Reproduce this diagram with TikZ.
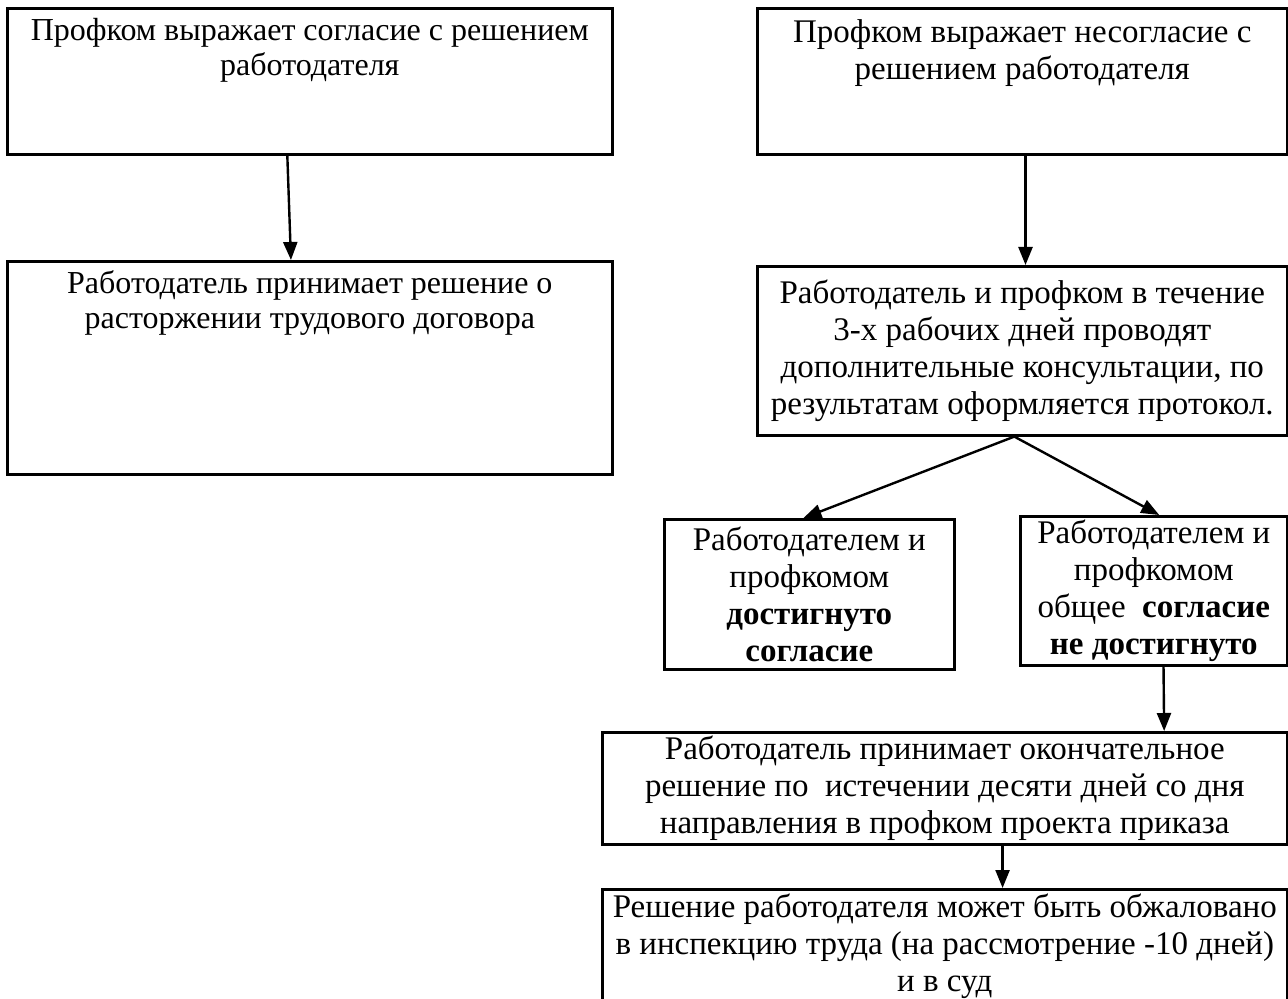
\documentclass[tikz,border=0pt]{standalone}
\usepackage{fontspec}
\setmainfont{Liberation Serif}
\usetikzlibrary{arrows.meta,calc}

\tikzset{
  blk/.style={draw, line width=1.3pt, inner sep=0pt, anchor=north west, align=center,
    font=\fontsize{16.5}{18.5}\selectfont},
  blkl/.style={blk, font=\fontsize{16}{17.5}\selectfont},
  arr/.style={line width=1.2pt, -{Triangle[width=7pt,length=9pt]}},
}
% text hung from the top edge of a box
\newcommand{\toptext}[3]{\parbox[c][#2][t]{#1}{\centering\vspace*{4pt}\strut #3\par}}

\begin{document}
\begin{tikzpicture}[x=0.5pt,y=0.5pt,yscale=-1,xscale=1]
\useasboundingbox (0,0) rectangle (1288,999);

%Box: soglasie
\node (sogl) [blkl] at (6,7) {\toptext{302.5pt}{73pt}{Профком выражает согласие с решением\\ работодателя}};
%Box: nesoglasie
\node (nesogl) [blk] at (756,7) {\toptext{265pt}{73pt}{Профком выражает несогласие с\\ решением работодателя}};
%Box: rastorzhenie
\node (rastorg) [blkl] at (6,260) {\toptext{302.5pt}{106.5pt}{Работодатель принимает решение о\\ расторжении трудового договора}};
%Box: konsultacii
\node (konsult) [blk, minimum width=265pt, minimum height=84.5pt] at (756,265)
  {Работодатель и профком в течение\\ 3-х рабочих дней проводят\\ дополнительные консультации, по\\ результатам оформляется протокол.};
%Box: dostignuto
\node (dost) [blk, minimum width=145pt, minimum height=75pt] at (663,518)
  {Работодателем и\\ профкомом\\ \textbf{достигнуто}\\ \textbf{согласие}};
%Box: ne dostignuto
\node (nedost) [blk, minimum width=133.5pt, minimum height=74.5pt] at (1019,515)
  {Работодателем и\\ профкомом\\ общее \ \textbf{согласие}\\ \textbf{не достигнуто}};
%Box: okonchatelnoe
\node (okonch) [blk, minimum width=342.5pt, minimum height=56pt] at (601,731)
  {Работодатель принимает окончательное\\ решение по \ истечении десяти дней со дня\\ направления в профком проекта приказа};
%Box: obzhalovanie
\node (obzh) [blk, minimum width=342.5pt, minimum height=57pt] at (601,888)
  {Решение работодателя может быть обжаловано\\ в инспекцию труда (на рассмотрение -10 дней)\\ и в суд};

% Arrows
\draw [arr] ($(sogl.south west)!0.463!(sogl.south east)$) -- ($(rastorg.north west)!0.469!(rastorg.north east)$);
\draw [arr] ($(nesogl.south west)!0.506!(nesogl.south east)$) -- ($(konsult.north west)!0.506!(konsult.north east)$);
\draw [arr] ($(konsult.south west)!0.485!(konsult.south east)$) -- ($(dost.north west)!0.48!(dost.north east)$);
\draw [arr] ($(konsult.south west)!0.485!(konsult.south east)$) -- ($(nedost.north west)!0.52!(nedost.north east)$);
\draw [arr] ($(nedost.south west)!0.536!(nedost.south east)$) -- ($(okonch.north west)!0.819!(okonch.north east)$);
\draw [arr] ($(okonch.south west)!0.584!(okonch.south east)$) -- ($(obzh.north west)!0.584!(obzh.north east)$);

\end{tikzpicture}
\end{document}
